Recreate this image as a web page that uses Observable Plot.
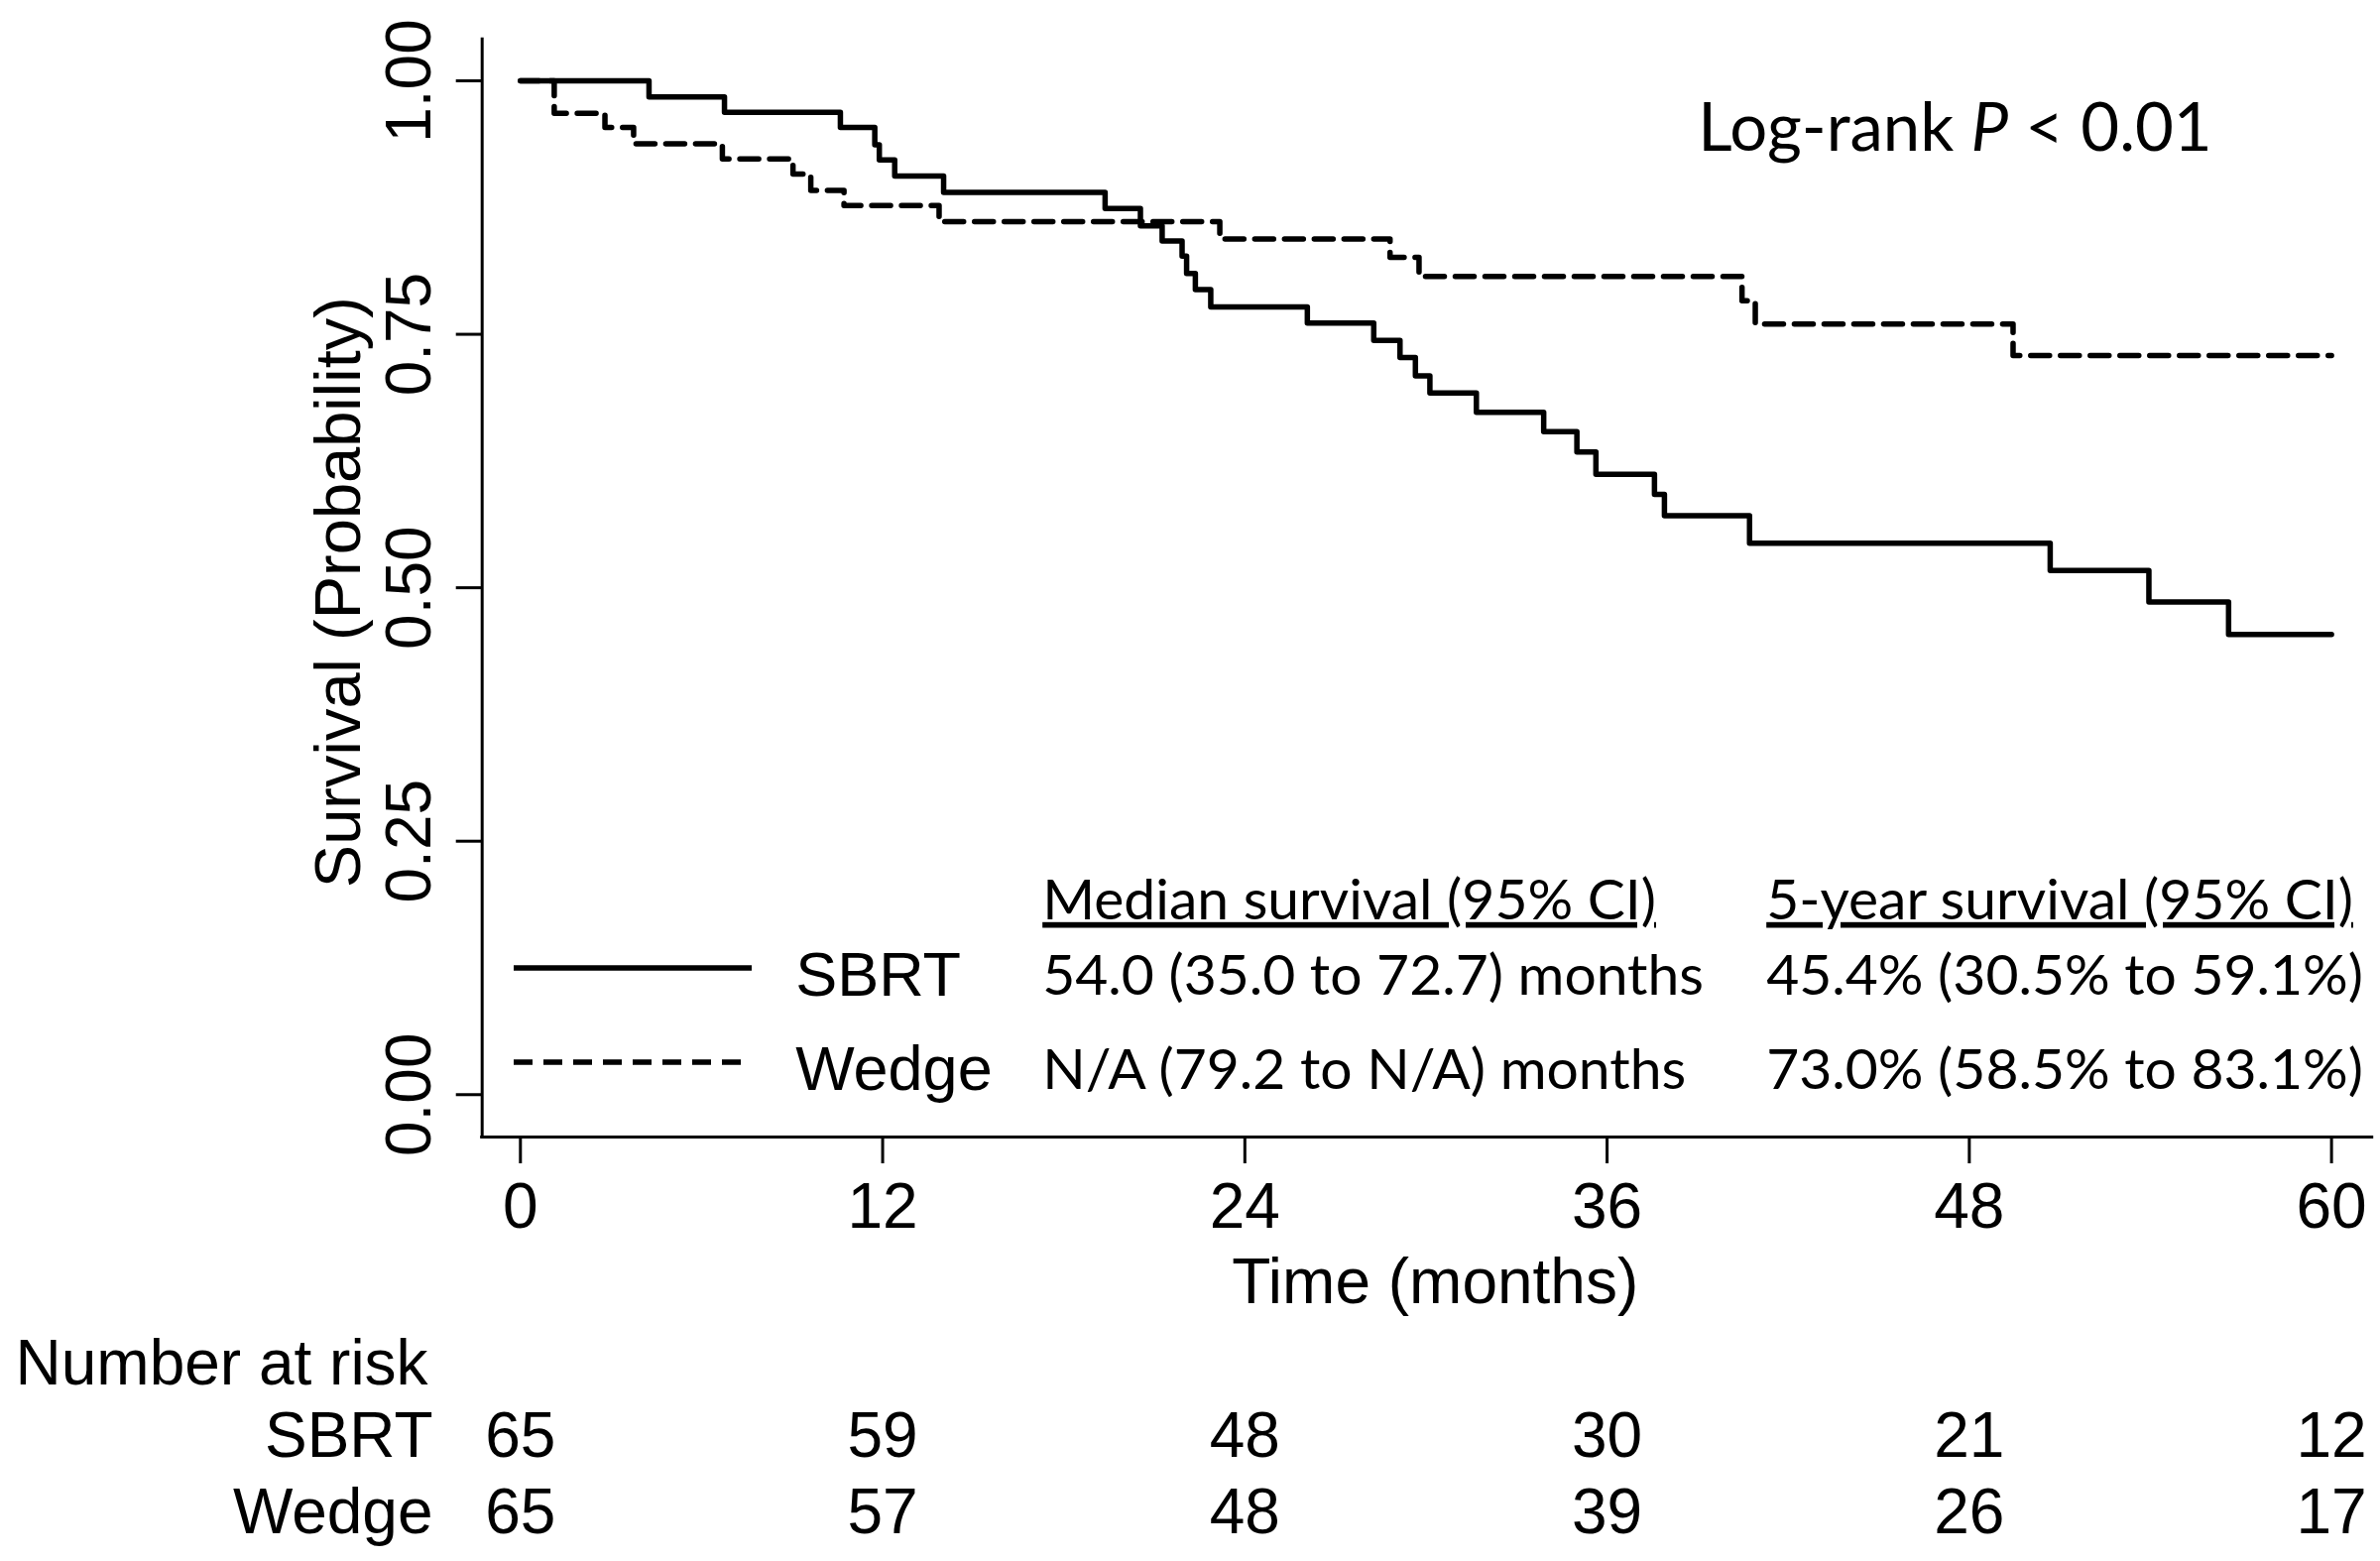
<!DOCTYPE html>
<html>
<head>
<meta charset="utf-8">
<script src="https://cdn.jsdelivr.net/npm/d3@7"></script>
<script src="https://cdn.jsdelivr.net/npm/@observablehq/plot@0.6"></script>
<style>
html, body { margin: 0; padding: 0; background: #fff; }
#chart { position: relative; width: 2400px; height: 1574px; }
</style>
</head>
<body>
<div id="chart"></div>
<script>
// ---------- data ----------
const groups = ["SBRT", "Wedge"];
const sbrtTime = [0, 4.26, 6.76, 10.6, 11.74, 11.89, 12.4, 14.02, 19.37, 20.54, 21.26, 21.92, 22.07, 22.36, 22.87, 26.07, 28.27, 29.14, 29.65, 30.13, 31.67, 33.9, 35.0, 35.63, 37.57, 37.9, 40.72, 50.68, 53.95, 56.59, 60];
const sbrtSurv = [1.0, 0.984, 0.969, 0.954, 0.937, 0.922, 0.906, 0.890, 0.874, 0.857, 0.842, 0.827, 0.810, 0.794, 0.777, 0.761, 0.744, 0.727, 0.709, 0.692, 0.673, 0.654, 0.634, 0.612, 0.592, 0.571, 0.544, 0.517, 0.486, 0.454, 0.454];
const wedgeTime = [0, 1.12, 2.8, 3.75, 6.69, 9.03, 9.62, 10.72, 13.87, 23.17, 28.81, 29.77, 40.47, 40.91, 49.45, 60];
const wedgeSurv = [1.0, 0.968, 0.954, 0.938, 0.923, 0.908, 0.892, 0.877, 0.861, 0.844, 0.826, 0.807, 0.783, 0.760, 0.729, 0.729];
const xTicks = [0, 12, 24, 36, 48, 60];
const yTicks = [0, 0.25, 0.5, 0.75, 1];
const yTickLabels = ["0.00", "0.25", "0.50", "0.75", "1.00"];
const riskTimes = [0, 12, 24, 36, 48, 60];
const riskSBRT = [65, 59, 48, 30, 21, 12];
const riskWedge = [65, 57, 48, 39, 26, 17];
const medianText = ["54.0 (35.0 to 72.7) months", "N/A (79.2 to N/A) months"];
const fiveYearText = ["45.4% (30.5% to 59.1%)", "73.0% (58.5% to 83.1%)"];
const headers = ["Median survival (95% CI)", "5-year survival (95% CI)"];
const pText = "Log-rank P < 0.01";

// ---------- layout ----------
const xDomain = [-1.268, 61.35];
const yDomain = [-0.0418, 1.0408];
const axisFont = "'Liberation Sans', Arial, Helvetica, sans-serif";
const legFont = "Lato, 'Open Sans', sans-serif";
const lineW = 5.5;
const dash = "19,11";

const sbrtRows = sbrtTime.map((t, i) => ({group: groups[0], time: t, surv: sbrtSurv[i]}));
const wedgeRows = wedgeTime.map((t, i) => ({group: groups[1], time: t, surv: wedgeSurv[i]}));

const common = {fill: "black", fontFamily: axisFont, fontSize: 64, lineAnchor: "bottom"};
const leg = {fill: "black", text: d => d, frameAnchor: "top-left", textAnchor: "start", lineAnchor: "bottom", fontFamily: legFont, fontSize: 57};

const plot = Plot.plot({
  width: 2400,
  height: 1574,
  marginLeft: 485.7,
  marginRight: 8.3,
  marginTop: 39.3,
  marginBottom: 428,
  style: {background: "white", color: "black", overflow: "visible"},
  x: {domain: xDomain},
  y: {domain: yDomain},
  marks: [
    Plot.ruleX([xDomain[0]], {strokeWidth: 3, strokeLinecap: "square"}),
    Plot.ruleY([yDomain[0]], {strokeWidth: 3, strokeLinecap: "square"}),
    Plot.axisX({ticks: xTicks, tickSize: 27, tickPadding: 19, strokeWidth: 3, fontSize: 64, fontFamily: axisFont, label: null, tickFormat: d => String(d)}),
    Plot.axisY({ticks: yTicks, tickSize: 26, strokeWidth: 3, tickFormat: () => "", label: null}),
    Plot.text(yTicks, {...common, y: d => d, frameAnchor: "left", dx: -52.7, rotate: -90, textAnchor: "middle", text: (d, i) => yTickLabels[i]}),
    Plot.text(["Survival (Probability)"], {...common, text: d => d, frameAnchor: "left", dx: -123.7, dy: 4, rotate: -90, textAnchor: "middle", fontSize: 65}),
    Plot.text(["Time (months)"], {...common, text: d => d, frameAnchor: "bottom", dx: 8, dy: 167, textAnchor: "middle"}),
    // survival curves
    Plot.line(sbrtRows, {x: "time", y: "surv", curve: "step-after", stroke: "black", strokeWidth: lineW}),
    Plot.line(wedgeRows, {x: "time", y: "surv", curve: "step-after", stroke: "black", strokeWidth: lineW, strokeDasharray: dash}),
    // number at risk
    Plot.text(["Number at risk"], {...common, text: d => d, frameAnchor: "bottom-left", dx: -470.7, dy: 249, textAnchor: "start"}),
    Plot.text([groups[0]], {...common, text: d => d, frameAnchor: "bottom-left", dx: -49.7, dy: 322, textAnchor: "end"}),
    Plot.text([groups[1]], {...common, text: d => d, frameAnchor: "bottom-left", dx: -49.7, dy: 399, textAnchor: "end"}),
    Plot.text(riskTimes, {...common, x: d => d, frameAnchor: "bottom", dy: 322, textAnchor: "middle", text: (d, i) => String(riskSBRT[i])}),
    Plot.text(riskTimes, {...common, x: d => d, frameAnchor: "bottom", dy: 399, textAnchor: "middle", text: (d, i) => String(riskWedge[i])}),
    // legend / annotation
    Plot.text([pText], {...leg, dx: 1226, dy: 112, fontSize: 67}),
    Plot.text([headers[0]], {...leg, dx: 565, dy: 887}),
    Plot.text([headers[1]], {...leg, dx: 1295, dy: 887}),
    Plot.text([groups[0]], {...common, text: d => d, frameAnchor: "top-left", dx: 316, dy: 964, textAnchor: "start", fontSize: 63}),
    Plot.text([groups[1]], {...common, text: d => d, frameAnchor: "top-left", dx: 316, dy: 1059, textAnchor: "start", fontSize: 63}),
    Plot.text([medianText[0]], {...leg, dx: 565, dy: 963}),
    Plot.text([medianText[1]], {...leg, dx: 565, dy: 1058}),
    Plot.text([fiveYearText[0]], {...leg, dx: 1295, dy: 963}),
    Plot.text([fiveYearText[1]], {...leg, dx: 1295, dy: 1058})
  ]
});

document.getElementById("chart").appendChild(plot);

// post-processing: underline headers, italic P, legend swatches
const svg = d3.select(plot);
svg.selectAll("text").each(function() {
  const t = this.textContent;
  if (headers.includes(t)) {
    this.style.textDecoration = "underline";
    this.style.textDecorationSkipInk = "none";
    this.style.textDecorationThickness = "4px";
    this.style.textUnderlineOffset = "6px";
  }
  if (t === pText) {
    this.innerHTML = 'Log-rank <tspan font-style="italic">P</tspan> &lt; 0.01';
  }
});
const sw = svg.append("g").attr("stroke", "black").attr("stroke-width", lineW);
sw.append("line").attr("x1", 518).attr("x2", 758).attr("y1", 976).attr("y2", 976);
sw.append("line").attr("x1", 518).attr("x2", 758).attr("y1", 1071).attr("y2", 1071).attr("stroke-dasharray", dash);
</script>
</body>
</html>
